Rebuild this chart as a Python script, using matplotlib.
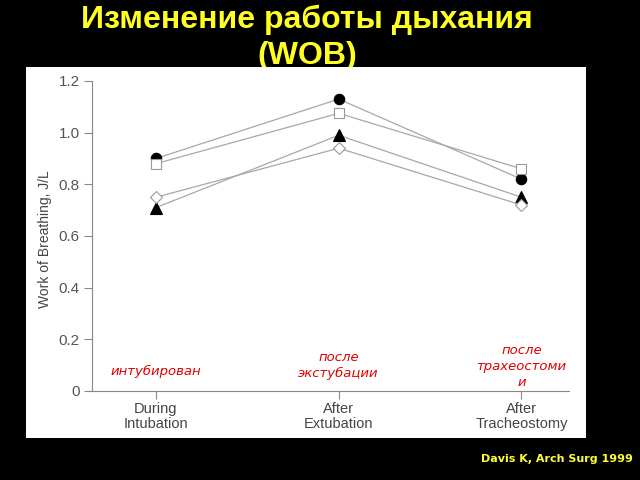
import matplotlib.pyplot as plt
from matplotlib.patches import Rectangle

# data
stages = ["During\nIntubation", "After\nExtubation", "After\nTracheostomy"]
ru_labels = ["интубирован", "после\nэкстубации", "после\nтрахеостоми\nи"]
wob_circle = [0.90, 1.13, 0.82]
wob_square = [0.88, 1.075, 0.86]
wob_triangle = [0.71, 0.99, 0.75]
wob_diamond = [0.75, 0.94, 0.72]
y_ticks = [0, 0.2, 0.4, 0.6, 0.8, 1.0, 1.2]
y_tick_labels = ["0", "0.2", "0.4", "0.6", "0.8", "1.0", "1.2"]

narrow = ["Liberation Sans Narrow", "Liberation Sans", "DejaVu Sans"]
grey = "#555555"
line_grey = "#a8a8a8"

fig = plt.figure(figsize=(6.4, 4.8), dpi=100, facecolor="black")

# title sits behind the white panel (the panel clips "(WOB)" in the original)
fig.text(307 / 640, 1 - 20 / 480, "Изменение работы дыхания", ha="center", va="center",
         color="#ffff22", fontsize=23, fontweight="bold",
         family=["Liberation Sans", "DejaVu Sans"], zorder=-3)
fig.text(307 / 640, 1 - 56 / 480, "(WOB)", ha="center", va="center",
         color="#ffff22", fontsize=23, fontweight="bold",
         family=["Liberation Sans", "DejaVu Sans"], zorder=-3)

# white slide panel behind the chart
fig.patches.append(Rectangle((26 / 640, 1 - 438 / 480), 560 / 640, 371 / 480,
                             transform=fig.transFigure, facecolor="white",
                             edgecolor="none", zorder=-1))

ax = fig.add_axes([92 / 640, 1 - 391 / 480, 477 / 640, 310 / 480])
ax.set_facecolor("none")

x = range(len(stages))
series = [
    (wob_circle, "o", "black", "black", 7.5),
    (wob_square, "s", "white", "#999999", 7),
    (wob_triangle, "^", "black", "black", 8),
    (wob_diamond, "D", "white", "#999999", 6.5),
]
for vals, m, fc, ec, ms in series:
    ax.plot(x, vals, color=line_grey, lw=0.9, marker=m, markersize=ms,
            markerfacecolor=fc, markeredgecolor=ec, markeredgewidth=0.8, zorder=3)

ax.set_xlim(-0.35, 2.26)
ax.set_ylim(0, 1.2)
ax.set_yticks(y_ticks)
ax.set_yticklabels(y_tick_labels, family=narrow, fontsize=11, color=grey)
ax.set_xticks(list(x))
ax.set_xticklabels(stages, family=narrow, fontsize=10.5, color="#444444", linespacing=1.05)
ax.set_ylabel("Work of Breathing, J/L", family=narrow, fontsize=10, color="#444444")
ax.yaxis.set_label_coords(-0.083, 0.49)
ax.tick_params(direction="out", length=6, width=0.8, color="#888888", pad=3)
ax.tick_params(axis="x", pad=2)
for side in ["top", "right"]:
    ax.spines[side].set_visible(False)
for side in ["left", "bottom"]:
    ax.spines[side].set_color("#888888")
    ax.spines[side].set_linewidth(0.8)

# red handwritten notes
ru_y = [0.075, 0.10, 0.093]
for i, (t, yy) in enumerate(zip(ru_labels, ru_y)):
    ax.text(i, yy, t, ha="center", va="center", color="#e00000", fontsize=9.5,
            style="italic", family=["DejaVu Sans"], linespacing=1.3)

fig.text(633 / 640, 1 - 459 / 480, "Davis K, Arch Surg 1999", ha="right", va="center",
         color="#ffff33", fontsize=8, fontweight="bold", family=["DejaVu Sans"])

fig.savefig("out.png", dpi=100, facecolor="black")
